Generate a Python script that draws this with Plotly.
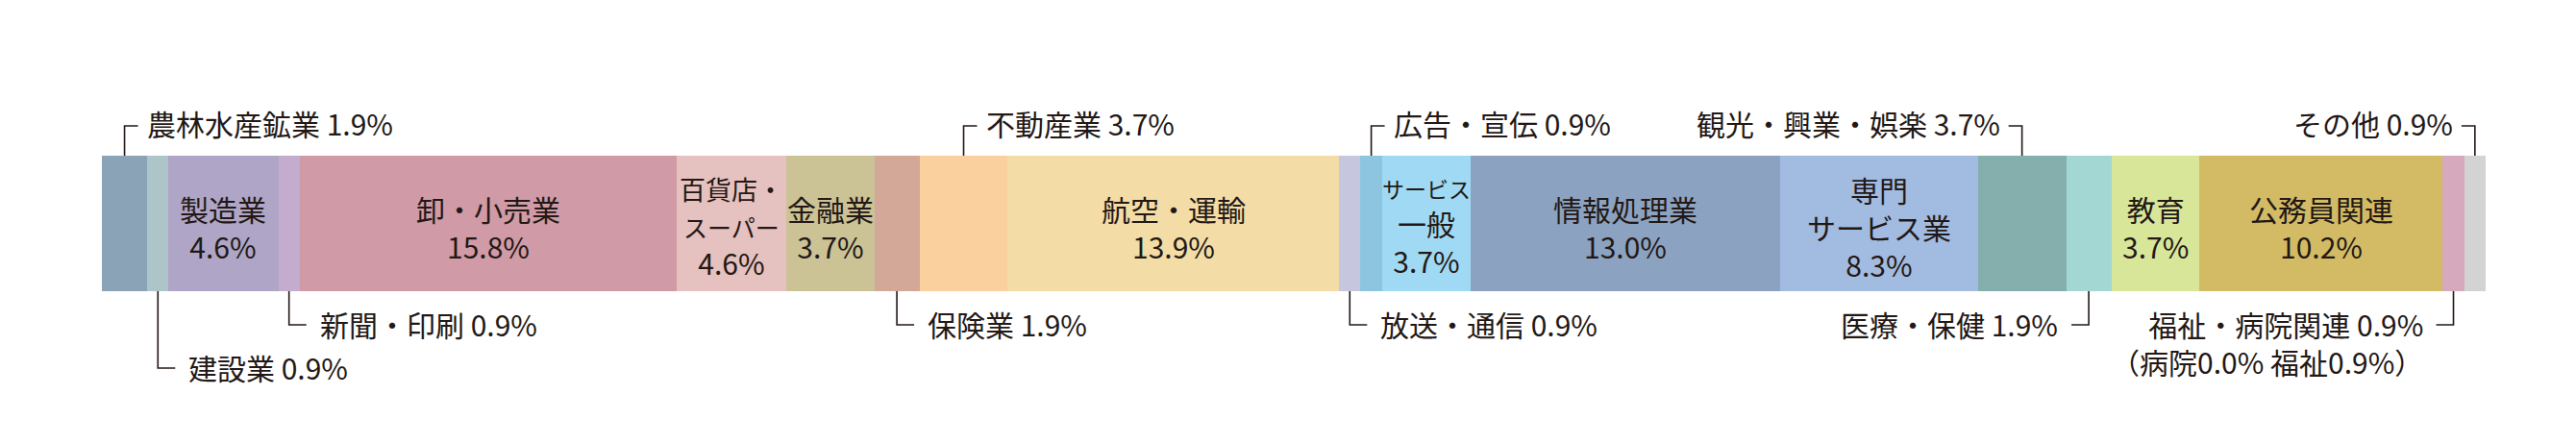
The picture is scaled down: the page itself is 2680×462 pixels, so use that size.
import plotly.graph_objects as go

# ---------------- data ----------------
categories = ["農林水産鉱業", "建設業", "製造業", "新聞・印刷", "卸・小売業", "百貨店・スーパー",
              "金融業", "保険業", "不動産業", "航空・運輸", "放送・通信", "広告・宣伝",
              "サービス一般", "情報処理業", "専門サービス業", "観光・興業・娯楽", "医療・保健",
              "教育", "公務員関連", "福祉・病院関連", "その他"]
values = [1.9, 0.9, 4.6, 0.9, 15.8, 4.6, 3.7, 1.9, 3.7, 13.9, 0.9, 0.9, 3.7, 13.0, 8.3,
          3.7, 1.9, 3.7, 10.2, 0.9, 0.9]
welfare_breakdown_labels = ["病院", "福祉"]
welfare_breakdown_values = [0.0, 0.9]

# ---------------- styles ----------------
colors = ["#8ba3b7", "#adc4c8", "#afa5c6", "#c3acce", "#d09ba7", "#e5c1bf",
          "#cbc296", "#d4a898", "#f9d09e", "#f3dca5", "#c6c7de", "#8dc5e0",
          "#a0d9f3", "#8ca2c1", "#a2bbe0", "#84afad", "#a3d7d3",
          "#d8e69a", "#d3bb65", "#d6aabc", "#d3d3d3"]
TXT = "#231815"
FONT = "Noto Sans CJK JP"
FS = 30


def sized(txt, fs):
    return f"<span style='font-size:{fs}px'>{txt}</span>"


# inner label display lines (name part)
inner_names = {
    "製造業": ["製造業"],
    "卸・小売業": ["卸・小売業"],
    "百貨店・スーパー": [sized("百貨店・", 27), sized("スーパー", 25)],
    "金融業": ["金融業"],
    "航空・運輸": ["航空・運輸"],
    "サービス一般": [sized("サービス", 23), "一般"],
    "情報処理業": ["情報処理業"],
    "専門サービス業": ["専門", "サービス業"],
    "教育": ["教育"],
    "公務員関連": ["公務員関連"],
}
# outer label placement: (side, direction, row)
outer_place = {
    "農林水産鉱業": ("top", "right", 1),
    "建設業": ("bottom", "right", 2),
    "新聞・印刷": ("bottom", "right", 1),
    "保険業": ("bottom", "right", 1),
    "不動産業": ("top", "right", 1),
    "放送・通信": ("bottom", "right", 1),
    "広告・宣伝": ("top", "right", 1),
    "観光・興業・娯楽": ("top", "left", 1),
    "医療・保健": ("bottom", "left", 1),
    "福祉・病院関連": ("bottom", "left", 1),
    "その他": ("top", "left", 1),
}

# ---------------- geometry (pixels) ----------------
W, H = 2680, 462
BAR_L, BAR_R = 106, 2586
BAR_T, BAR_B = 162, 303
PX_X = (BAR_R - BAR_L) / 100.0
bar_h = BAR_B - BAR_T
ymax = 0.5 + BAR_T / bar_h
ymin = -0.5 - (H - BAR_B) / bar_h


def y_of_px(p):
    return ymax - p * (ymax - ymin) / H


LINE_H = 1.3 * FS
INNER_CENTER_PX = 236
TOP_LINE_PX, TOP_TEXT_PX = 131, 128
ROW_LINE_PX = {1: 338, 2: 383}
ROW_TEXT_PX = {1: 337, 2: 382}
STUB_TOP, STUB_BOT = 14, 18
GAP_TOP, GAP_BOT = 7, 12

fig = go.Figure()
for cat, v, c in zip(categories, values, colors):
    fig.add_trace(go.Bar(x=[v], y=[0], orientation="h", width=1, name=cat,
                         marker=dict(color=c, line=dict(width=0)), showlegend=False,
                         hovertemplate=cat + " %{x:.1f}%<extra></extra>"))

annotations = []
shapes = []
cum = 0.0
for cat, v in zip(categories, values):
    center = cum + v / 2.0
    cum += v
    pct = f"{v:.1f}%"
    if cat in inner_names:
        lines = inner_names[cat] + [pct]
        annotations.append(dict(x=center, y=y_of_px(INNER_CENTER_PX), xref="x", yref="y",
                                text="<br>".join(lines), showarrow=False,
                                xanchor="center", yanchor="middle", align="center",
                                font=dict(family=FONT, size=FS, color=TXT)))
    if cat in outer_place:
        side, direction, row = outer_place[cat]
        sgn = 1 if direction == "right" else -1
        if side == "top":
            y0 = 0.5
            y1 = y_of_px(TOP_LINE_PX)
            ty_px = TOP_TEXT_PX
            stub, gap = STUB_TOP, GAP_TOP
        else:
            y0 = -0.5
            y1 = y_of_px(ROW_LINE_PX[row])
            ty_px = ROW_TEXT_PX[row]
            stub, gap = STUB_BOT, GAP_BOT
        x1 = center + sgn * stub / PX_X
        shapes.append(dict(type="path", xref="x", yref="y",
                           path=f"M {center},{y0} L {center},{y1} L {x1},{y1}",
                           line=dict(color=TXT, width=1.6)))
        tx = x1 + sgn * gap / PX_X
        anchor = "left" if sgn > 0 else "right"
        text = f"{cat} {pct}"
        if cat == "福祉・病院関連":
            sub = " ".join(f"{l}{bv:.1f}%" for l, bv in zip(welfare_breakdown_labels,
                                                             welfare_breakdown_values))
            text += f"<br>（{sub}）"
            ty_px += LINE_H / 2.0
        annotations.append(dict(x=tx, y=y_of_px(ty_px), xref="x", yref="y", text=text,
                                showarrow=False, xanchor=anchor, align=anchor,
                                yanchor="middle", font=dict(family=FONT, size=FS, color=TXT)))

fig.update_layout(
    width=W, height=H, barmode="stack", bargap=0,
    margin=dict(l=BAR_L, r=W - BAR_R, t=0, b=0, pad=0),
    paper_bgcolor="white", plot_bgcolor="white",
    xaxis=dict(range=[0, 100], visible=False, fixedrange=True),
    yaxis=dict(range=[ymin, ymax], visible=False, fixedrange=True),
    annotations=annotations, shapes=shapes,
    font=dict(family=FONT, color=TXT),
)
fig.write_html("out.html", config={"displayModeBar": False},
               post_script="document.body.style.margin='0';document.body.style.padding='0';")
